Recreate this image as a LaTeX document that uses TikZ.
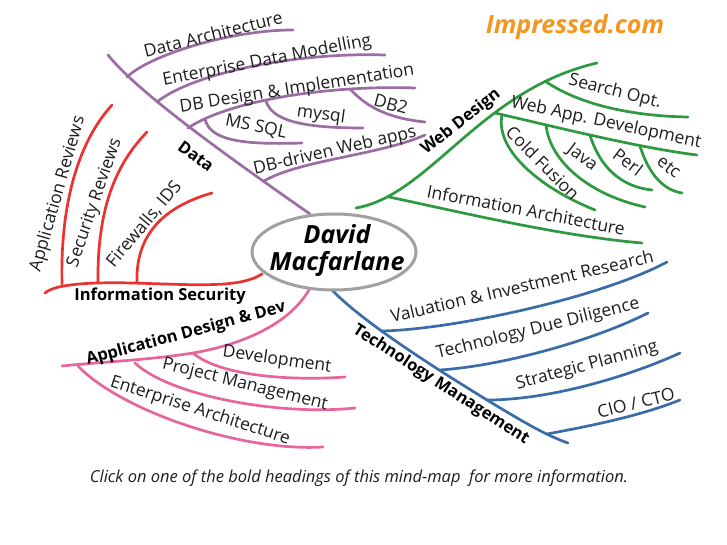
\documentclass[tikz,border=0pt]{standalone}
\usepackage{fontspec}
\setmainfont{Open Sans}
\usetikzlibrary{shapes.geometric}
\definecolor{dpurple}{RGB}{156,109,165}
\definecolor{wgreen}{RGB}{46,153,64}
\definecolor{sred}{RGB}{236,50,48}
\definecolor{apink}{RGB}{232,101,154}
\definecolor{tblue}{RGB}{58,109,168}
\definecolor{egray}{RGB}{160,160,160}
\definecolor{ink}{RGB}{30,30,30}
\definecolor{iorange}{RGB}{247,150,30}
\begin{document}
\begin{tikzpicture}[x=1pt,y=-1pt,
  br/.style={line width=2.7pt,line cap=round},
  lbl/.style={font=\fontsize{17.5}{17.5}\selectfont,text=ink,inner sep=0pt},
  hd/.style={font=\fontsize{16.5}{16.5}\selectfont\bfseries,text=black,inner sep=0pt}]
\useasboundingbox (0,0) rectangle (727,545);
\fill[white] (0,0) rectangle (727,545);

% ---------- Data (purple)
\coordinate (d0) at (108,55);
\coordinate (d1) at (127,77);
\coordinate (d2) at (157,102);
\coordinate (d3) at (188,128);
\coordinate (d4) at (264,181);
\coordinate (dc) at (310,214);
\coordinate (dbm) at (205,119);
\coordinate (dby) at (266,101);
\coordinate (db2) at (350,89);
\coordinate (e1) at (293,30);
\coordinate (e2) at (385,55);
\coordinate (e3) at (415,88);
\coordinate (e4) at (302,143);
\coordinate (e5) at (363,128);
\coordinate (e6) at (425,122);
\coordinate (e7) at (425,135);
\begin{scope}[br,dpurple]
\draw (d0) .. controls (140,95) and (240,165) .. (dc);
\draw (d1) .. controls (150,55) and (230,30) .. (e1);
\draw (d2) .. controls (190,75) and (290,52) .. (e2);
\draw (d3) .. controls (230,100) and (330,85) .. (e3);
\draw (dbm) .. controls (210,140) and (240,145) .. (e4);
\draw (dby) .. controls (272,120) and (300,128) .. (e5);
\draw (db2) .. controls (365,105) and (385,118) .. (e6);
\draw (d4) .. controls (300,160) and (380,155) .. (e7);
\end{scope}
\node[lbl,rotate=14] (tda) at (213,34) {Data Architecture};
\node[lbl,rotate=11] (tedm) at (267,61) {Enterprise Data Modelling};
\node[lbl,rotate=9] (tdbd) at (297,89) {DB Design \& Implementation};
\node[lbl,rotate=-12] (tms) at (256,127) {MS SQL};
\node[lbl,rotate=-8] (tmy) at (321,115) {mysql};
\node[lbl,rotate=-15] (tdb2) at (391,104) {DB2};
\node[lbl,rotate=13] (tdbw) at (335,151) {DB-driven Web apps};
\node[hd,rotate=-36] (hdata) at (196,156) {Data};

% ---------- Web Design (green)
\coordinate (g0) at (356,208);
\coordinate (g1) at (597,63);
\coordinate (gs) at (545,81);
\coordinate (gw) at (495,113);
\coordinate (gi) at (389,197);
\coordinate (gcf) at (502,115);
\coordinate (gj) at (546,125);
\coordinate (gp) at (590,135);
\coordinate (ge) at (640,146);
\coordinate (f1) at (688,117);
\coordinate (f2) at (697,155);
\coordinate (f3) at (595,210);
\coordinate (f4) at (645,207);
\coordinate (f5) at (652,190);
\coordinate (f6) at (682,193);
\coordinate (f7) at (642,243);
\begin{scope}[br,wgreen]
\draw (g0) .. controls (430,195) and (480,90) .. (g1);
\draw (gs) .. controls (575,102) and (625,116) .. (f1);
\draw (gw) .. controls (560,128) and (640,148) .. (f2);
\draw (gcf) .. controls (495,150) and (540,188) .. (f3);
\draw (gj) .. controls (550,162) and (590,195) .. (f4);
\draw (gp) .. controls (600,168) and (622,187) .. (f5);
\draw (ge) .. controls (648,172) and (662,190) .. (f6);
\draw (gi) .. controls (460,212) and (560,236) .. (f7);
\end{scope}
\node[hd,rotate=38] (hweb) at (461,122) {Web Design};
\node[lbl,rotate=-14] (tso) at (615,92) {Search Opt.};
\node[lbl,rotate=-12] (twa) at (606,123) {Web App. Development};
\node[lbl,rotate=-45] (tcf) at (543,163) {Cold Fusion};
\node[lbl,rotate=-37] (tja) at (582,158) {Java};
\node[lbl,rotate=-37] (tpe) at (628,162) {Perl};
\node[lbl,rotate=-38] (tet) at (669,167) {etc};
\node[lbl,rotate=-11] (tia) at (526,210) {Information Architecture};

% ---------- Information Security (red)
\coordinate (r0) at (262,274);
\coordinate (rm) at (133,283);
\coordinate (r1) at (45,293);
\coordinate (ra) at (62,284);
\coordinate (rs) at (98,283);
\coordinate (rf) at (137,283);
\coordinate (s1) at (112,105);
\coordinate (s2) at (147,132);
\coordinate (s3) at (212,193);
\begin{scope}[br,sred]
\draw (r0) .. controls (240,288) and (200,285) .. (rm) .. controls (90,282) and (55,284) .. (r1);
\draw (ra) .. controls (60,200) and (80,140) .. (s1);
\draw (rs) .. controls (97,210) and (115,165) .. (s2);
\draw (rf) .. controls (135,230) and (170,205) .. (s3);
\end{scope}
\node[hd] (hsec) at (160,296) {Information Security};
\node[lbl,rotate=74] (tar) at (58,194) {Application Reviews};
\node[lbl,rotate=71] (tsr) at (95,203) {Security Reviews};
\node[lbl,rotate=50] (tfw) at (144,224) {Firewalls, IDS};

% ---------- Application Design & Dev (pink)
\coordinate (p0) at (310,288);
\coordinate (pd) at (193,353);
\coordinate (p1) at (62,366);
\coordinate (pp) at (135,363);
\coordinate (pe) at (78,366);
\coordinate (q1) at (345,377);
\coordinate (q2) at (355,408);
\coordinate (q3) at (323,447);
\begin{scope}[br,apink]
\draw (p0) .. controls (290,325) and (240,345) .. (pd) .. controls (150,360) and (100,362) .. (p1);
\draw (pd) .. controls (220,376) and (290,381) .. (q1);
\draw (pp) .. controls (170,396) and (280,416) .. (q2);
\draw (pe) .. controls (120,410) and (240,452) .. (q3);
\end{scope}
\node[hd,rotate=15] (happ) at (186,334) {Application Design \& Dev};
\node[lbl,rotate=-8] (tdev) at (277,360) {Development};
\node[lbl,rotate=-14] (tpm) at (245,385) {Project Management};
\node[lbl,rotate=-18] (tea) at (200,411) {Enterprise Architecture};

% ---------- Technology Management (blue)
\coordinate (b0) at (330,288);
\coordinate (bs) at (487,400);
\coordinate (b1) at (568,443);
\coordinate (bv) at (381,331);
\coordinate (bt) at (440,370);
\coordinate (bc) at (547,434);
\coordinate (c1) at (667,262);
\coordinate (c2) at (648,313);
\coordinate (c3) at (680,353);
\coordinate (c4) at (680,400);
\begin{scope}[br,tblue]
\draw (b0) .. controls (360,320) and (430,365) .. (bs) .. controls (520,420) and (545,435) .. (b1);
\draw (bv) .. controls (450,330) and (600,298) .. (c1);
\draw (bt) .. controls (500,366) and (590,342) .. (c2);
\draw (bs) .. controls (550,400) and (630,376) .. (c3);
\draw (bc) .. controls (590,426) and (640,416) .. (c4);
\end{scope}
\node[hd,rotate=-33] (htech) at (441,385) {Technology Management};
\node[lbl,rotate=13] (tvir) at (522,286) {Valuation \& Investment Research};
\node[lbl,rotate=14] (ttdd) at (538,329) {Technology Due Diligence};
\node[lbl,rotate=15] (tsp) at (587,366) {Strategic Planning};
\node[lbl,rotate=14] (tcio) at (636,403) {CIO / CTO};

% ---------- centre
\node[ellipse,draw=egray,line width=3pt,fill=white,minimum width=164pt,minimum height=76pt,inner sep=0pt] (centre) at (334,252) {};
\node[font=\fontsize{25}{27}\selectfont\bfseries\itshape,align=center,text=black,inner sep=0pt] (name) at (337,251) {David\\Macfarlane};

% ---------- extra texts
\node[font=\fontsize{25}{25}\selectfont\bfseries\itshape,text=iorange,inner sep=0pt] (brand) at (575,27) {Impressed.com};
\node[font=\fontsize{16.5}{16.5}\selectfont\itshape,text=ink,inner sep=0pt] (caption) at (359,478) {Click on one of the bold headings of this mind-map\ \ for more information.};
\end{tikzpicture}
\end{document}
